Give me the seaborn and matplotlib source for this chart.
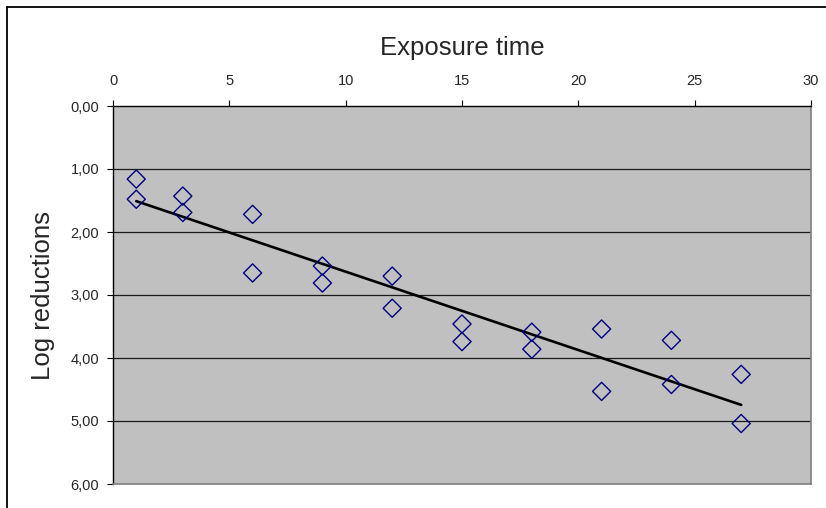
import matplotlib
matplotlib.use("Agg")
import matplotlib.pyplot as plt
import seaborn as sns
import pandas as pd
from matplotlib.lines import Line2D
from matplotlib.ticker import FuncFormatter

# exposure time (two replicates per time point)
exposure_time = [1, 1, 3, 3, 6, 6, 9, 9, 12, 12, 15, 15, 18, 18, 21, 21, 24, 24, 27, 27]
log_reductions = [1.16, 1.48, 1.43, 1.69, 1.72, 2.65, 2.54, 2.81, 2.70, 3.21,
                  3.46, 3.74, 3.59, 3.86, 3.54, 4.53, 3.72, 4.42, 4.26, 5.04]
x_ticks = [0, 5, 10, 15, 20, 25, 30]
y_ticks = [0, 1, 2, 3, 4, 5, 6]

df = pd.DataFrame({"Exposure time": exposure_time, "Log reductions": log_reductions})

sns.set_style("white")
plt.rcParams["font.family"] = ["Liberation Sans", "DejaVu Sans"]

W, H = 826, 508
fig = plt.figure(figsize=(W / 100, H / 100), dpi=100)
ax = fig.add_axes([113 / W, 1 - 484 / H, (811 - 113) / W, (484 - 106) / H])
ax.set_facecolor("#c0c0c0")

# horizontal gridlines
for yv in y_ticks[1:-1]:
    ax.axhline(yv, color="#1a1a1a", lw=0.9, zorder=1)

# trend line
sns.regplot(data=df, x="Exposure time", y="Log reductions", scatter=False, ci=None,
            color="black", line_kws=dict(lw=1.9, zorder=3), ax=ax)

# measured points
sns.scatterplot(data=df, x="Exposure time", y="Log reductions", marker="D", s=85,
                facecolors="none", edgecolor="#000080", linewidth=1.0, zorder=4, ax=ax)

ax.set_xlim(0, 30)
ax.set_ylim(6, 0)
ax.set_xticks(x_ticks)
ax.set_yticks(y_ticks)
ax.yaxis.set_major_formatter(FuncFormatter(lambda v, p: f"{v:.2f}".replace(".", ",")))

ax.xaxis.tick_top()
ax.xaxis.set_label_position("top")
ax.tick_params(axis="x", direction="out", length=4, width=0.8, color="black",
               labelsize=10.5, pad=9, top=True, bottom=False)
ax.tick_params(axis="y", direction="out", length=4, width=0.8, color="black",
               labelsize=10.5, pad=6, left=True)

ax.set_xlabel("Exposure time", fontsize=18.5, labelpad=14)
ax.set_ylabel("Log reductions", fontsize=18.5, labelpad=11)

for side in ["left", "top"]:
    ax.spines[side].set_color("black")
    ax.spines[side].set_linewidth(1.0)
for side in ["right", "bottom"]:
    ax.spines[side].set_color("#808080")
    ax.spines[side].set_linewidth(1.2)

# chart area border (left and top visible)
fig.add_artist(Line2D([7 / W, 7 / W], [0, 1 - 7 / H], color="black", lw=1.3))
fig.add_artist(Line2D([7 / W, 1], [1 - 7 / H, 1 - 7 / H], color="black", lw=1.3))

fig.savefig("out.png", dpi=100)
